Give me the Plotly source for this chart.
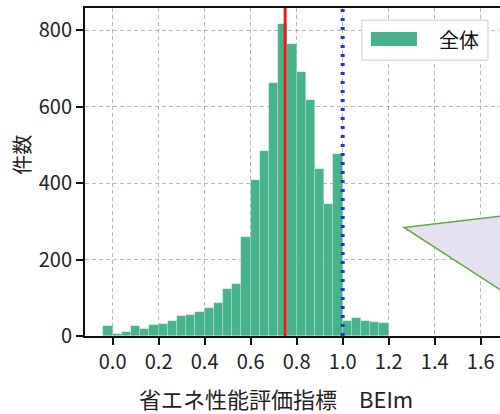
import numpy as np
import plotly.graph_objects as go

# histogram of BEIm, bins 0.04 wide starting at -0.04
bin_width = 0.04
bin_start = -0.04
counts = [
    27, 6, 10, 26, 19, 30, 31, 38, 52, 55,
    63, 72, 86, 122, 135, 258, 408, 485, 663, 815,
    765, 690, 618, 438, 344, 476, 40, 48, 40, 36,
    33,
]
mean_line = 0.75
standard_line = 1.0

x_ticks = [0.0, 0.2, 0.4, 0.6, 0.8, 1.0, 1.2, 1.4, 1.6]
y_ticks = [0, 200, 400, 600, 800]

# callout triangle (from a neighbouring panel, cut off at the right edge)
tri_apex = (1.267, 284)
tri_top_y = 313
tri_bottom_y = 121

x_range = [-0.12, 1.684]
y_range = [0, 858]

FONT = "Noto Sans CJK JP"
bar_color = "#46b38b"

left_edges = bin_start + bin_width * np.arange(len(counts))

fig = go.Figure()
fig.add_trace(
    go.Bar(
        x=left_edges,
        y=counts,
        width=bin_width,
        offset=0,
        name="全体",
        marker=dict(color=bar_color, line=dict(color="rgba(255,255,255,0.35)", width=0.6)),
        showlegend=False,
    )
)

# reference lines
fig.add_shape(
    type="line", xref="x", yref="y",
    x0=mean_line, x1=mean_line, y0=y_range[0], y1=y_range[1],
    line=dict(color="#ee1c1c", width=3), layer="above",
)
fig.add_shape(
    type="line", xref="x", yref="y",
    x0=standard_line, x1=standard_line, y0=y_range[0], y1=y_range[1],
    line=dict(color="#2438c0", width=4, dash="3px,6px"), layer="above",
)

# callout triangle: fill, then the two green edges
xr = x_range[1]
fig.add_shape(
    type="path", xref="x", yref="y",
    path=f"M {tri_apex[0]},{tri_apex[1]} L {xr},{tri_top_y} L {xr},{tri_bottom_y} Z",
    fillcolor="rgba(226,222,238,0.9)", line=dict(width=0), layer="above",
)
fig.add_shape(
    type="path", xref="x", yref="y",
    path=f"M {xr},{tri_top_y} L {tri_apex[0]},{tri_apex[1]} L {xr},{tri_bottom_y}",
    line=dict(color="#62a84a", width=1.5), layer="above",
)

# legend drawn by hand (wide handle like the original)
fig.add_shape(
    type="rect", xref="paper", yref="paper",
    x0=0.667, x1=0.971, y0=0.841, y1=0.963,
    fillcolor="rgba(255,255,255,0.9)", line=dict(color="#cccccc", width=1), layer="above",
)
fig.add_shape(
    type="rect", xref="paper", yref="paper",
    x0=0.689, x1=0.800, y0=0.884, y1=0.927,
    fillcolor=bar_color, line=dict(width=0), layer="above",
)
fig.add_annotation(
    text="全体", xref="paper", yref="paper", x=0.848, y=0.905,
    xanchor="left", yanchor="middle", showarrow=False,
    font=dict(family=FONT, size=20, color="#111111"),
)

# axis titles
fig.add_annotation(
    text="省エネ性能評価指標　BEIm", xref="paper", yref="paper", x=0.46, y=-0.19,
    xanchor="center", yanchor="middle", showarrow=False,
    font=dict(family=FONT, size=22, color="#222222"),
)
fig.add_annotation(
    text="件数", xref="paper", yref="paper", x=-0.152, y=0.552,
    xanchor="center", yanchor="middle", showarrow=False, textangle=-90,
    font=dict(family=FONT, size=20, color="#222222"),
)

grid = dict(showgrid=True, gridcolor="rgba(150,120,120,0.55)", gridwidth=1, griddash="4px,3px")

fig.update_xaxes(
    range=x_range, tickvals=x_ticks, tickformat=".1f", automargin=False,
    ticks="outside", ticklen=7, tickwidth=1.5, tickcolor="#111111",
    showline=True, linecolor="#111111", linewidth=2, mirror=True,
    zeroline=False, tickfont=dict(family=FONT, size=20, color="#222222"),
    **grid,
)
fig.update_yaxes(
    range=y_range, tickvals=y_ticks, automargin=False,
    ticks="outside", ticklen=7, tickwidth=1.5, tickcolor="#111111",
    showline=True, linecolor="#111111", linewidth=2, mirror=False,
    zeroline=False, tickfont=dict(family=FONT, size=20, color="#222222"),
    **grid,
)

fig.update_layout(
    width=500, height=414,
    margin=dict(l=85, r=0, t=8, b=78),
    paper_bgcolor="white", plot_bgcolor="white",
    bargap=0, showlegend=False,
    font=dict(family=FONT),
)

# drop the default 8px body margin so the figure fills the window exactly
fig.write_html(
    "out.html",
    config={"displayModeBar": False},
    post_script="document.body.style.margin='0';document.body.style.overflow='hidden';",
)
